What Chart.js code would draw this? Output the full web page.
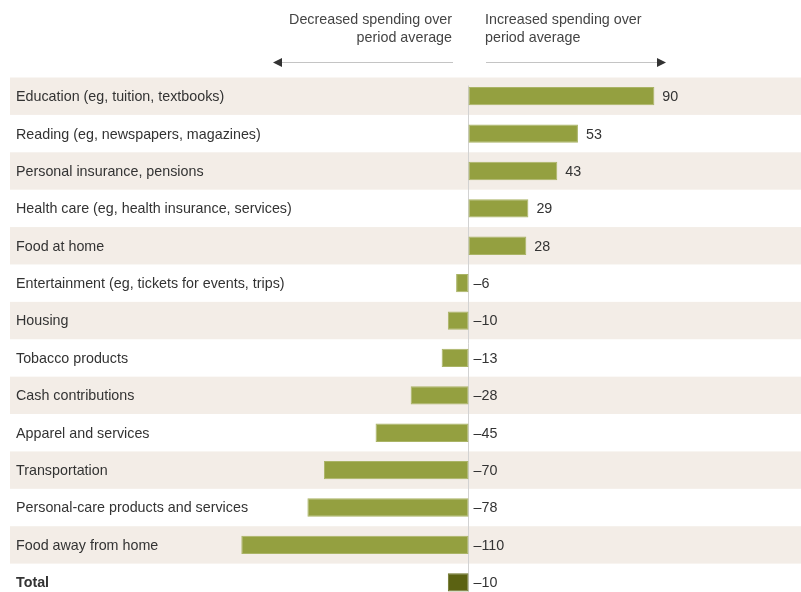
<!DOCTYPE html>
<html lang="en">
<head>
    <meta charset="UTF-8">
    <title>Spending vs period average</title>
    <script src="https://cdn.jsdelivr.net/npm/chart.js"></script>
    <style>
        html, body { margin: 0; padding: 0; background: #fff; overflow: hidden; }
        #wrap { width: 801px; height: 601px; }
    </style>
</head>
<body>
    <div id="wrap"><canvas id="spendChart"></canvas></div>

    <script>
        // data
        const categories = [
            'Education (eg, tuition, textbooks)',
            'Reading (eg, newspapers, magazines)',
            'Personal insurance, pensions',
            'Health care (eg, health insurance, services)',
            'Food at home',
            'Entertainment (eg, tickets for events, trips)',
            'Housing',
            'Tobacco products',
            'Cash contributions',
            'Apparel and services',
            'Transportation',
            'Personal-care products and services',
            'Food away from home',
            'Total'
        ];
        const values = [90, 53, 43, 29, 28, -6, -10, -13, -28, -45, -70, -78, -110, -10];
        const headerLeft = ['Decreased spending over', 'period average'];
        const headerRight = ['Increased spending over', 'period average'];

        const FONT = '"Liberation Sans", Arial, sans-serif';
        const SIZE = '14.3px ';
        const barColors = values.map((v, i) => i === values.length - 1 ? '#5b6212' : '#94a040');
        const borderColors = values.map((v, i) => i === values.length - 1 ? '#6a7124' : '#aab466');

        function fmt(v) {
            return v < 0 ? '\u2013' + Math.abs(v) : String(v);
        }

        // row bands, zero line, header arrows and all text
        const decorations = {
            id: 'decorations',
            beforeDatasetsDraw(chart) {
                const ctx = chart.ctx;
                const area = chart.chartArea;
                const y = chart.scales.y;
                const x = chart.scales.x;
                const step = area.height / categories.length;
                ctx.save();
                ctx.fillStyle = '#f3ede7';
                categories.forEach((c, i) => {
                    if (i % 2 === 0 && i < categories.length - 1) {
                        const cy = y.getPixelForValue(i);
                        ctx.fillRect(area.left, cy - step / 2, area.right - area.left, step);
                    }
                });
                const x0 = Math.round(x.getPixelForValue(0)) + 0.5;
                ctx.strokeStyle = '#d2d2d2';
                ctx.lineWidth = 1;
                ctx.beginPath();
                ctx.moveTo(x0, area.top + 8);
                ctx.lineTo(x0, area.bottom);
                ctx.stroke();
                ctx.restore();
            },
            afterDraw(chart) {
                const ctx = chart.ctx;
                const y = chart.scales.y;
                const x = chart.scales.x;
                const x0 = x.getPixelForValue(0);
                ctx.save();
                ctx.textBaseline = 'middle';
                ctx.fillStyle = '#333';
                categories.forEach((c, i) => {
                    const cy = y.getPixelForValue(i) + 1;
                    const last = i === categories.length - 1;
                    ctx.font = (last ? 'bold ' : '') + SIZE + FONT;
                    ctx.textAlign = 'left';
                    ctx.fillText(c, 16, cy);
                    ctx.font = SIZE + FONT;
                    const v = values[i];
                    const lx = v > 0 ? x.getPixelForValue(v) + 8 : x0 + 5;
                    ctx.fillText(fmt(v), lx, cy);
                });

                // header
                ctx.fillStyle = '#444';
                ctx.font = SIZE + FONT;
                ctx.textAlign = 'right';
                headerLeft.forEach((t, i) => ctx.fillText(t, 452, 20 + i * 18));
                ctx.textAlign = 'left';
                headerRight.forEach((t, i) => ctx.fillText(t, 485, 20 + i * 18));

                ctx.strokeStyle = '#c4c4c4';
                ctx.lineWidth = 1;
                ctx.beginPath();
                ctx.moveTo(280, 62.5);
                ctx.lineTo(453, 62.5);
                ctx.moveTo(486, 62.5);
                ctx.lineTo(658, 62.5);
                ctx.stroke();
                ctx.fillStyle = '#333';
                ctx.beginPath();
                ctx.moveTo(273, 62.5);
                ctx.lineTo(282, 58);
                ctx.lineTo(282, 67);
                ctx.closePath();
                ctx.fill();
                ctx.beginPath();
                ctx.moveTo(666, 62.5);
                ctx.lineTo(657, 58);
                ctx.lineTo(657, 67);
                ctx.closePath();
                ctx.fill();
                ctx.restore();
            }
        };

        new Chart(document.getElementById('spendChart'), {
            type: 'bar',
            data: {
                labels: categories,
                datasets: [{
                    data: values,
                    backgroundColor: barColors,
                    borderColor: borderColors,
                    borderWidth: 1,
                    borderSkipped: false,
                    barPercentage: 0.49,
                    categoryPercentage: 1
                }]
            },
            options: {
                indexAxis: 'y',
                responsive: true,
                maintainAspectRatio: false,
                animation: false,
                layout: { padding: { top: 77.5, left: 10, right: 0, bottom: 0 } },
                scales: {
                    x: { display: false, min: -222, max: 161 },
                    y: { display: false }
                },
                plugins: {
                    legend: { display: false },
                    tooltip: { enabled: false }
                }
            },
            plugins: [decorations]
        });
    </script>
</body>
</html>
